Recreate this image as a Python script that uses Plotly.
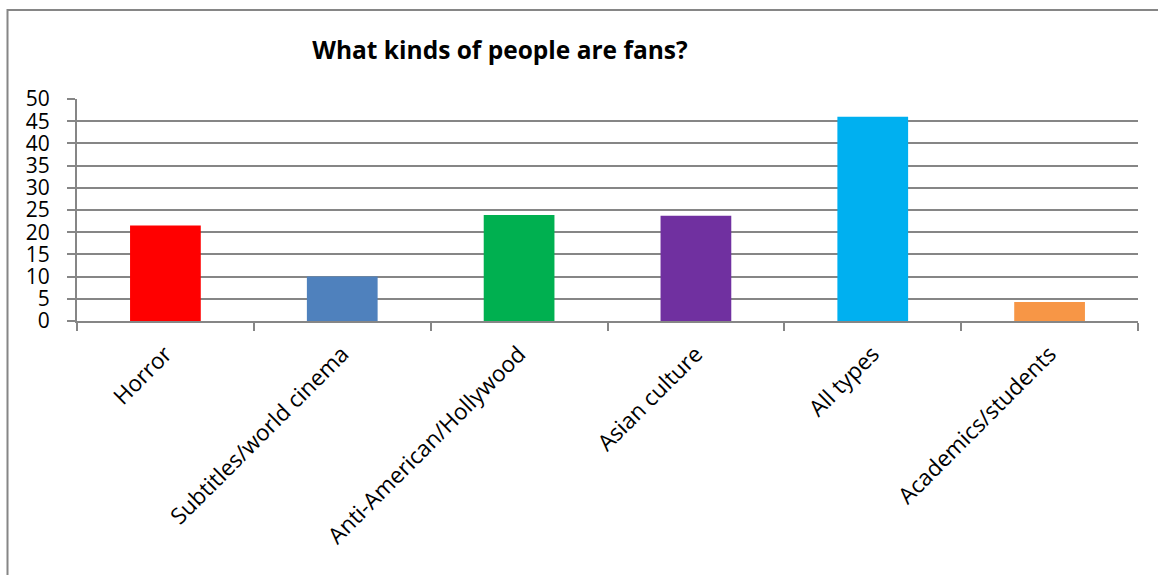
import plotly.graph_objects as go

categories = ["Horror", "Subtitles/world cinema", "Anti-American/Hollywood",
              "Asian culture", "All types", "Academics/students"]
values = [21.5, 10, 23.9, 23.7, 46, 4.3]
colors = ["#FF0000", "#4F81BD", "#00B050", "#7030A0", "#00B0F0", "#F79646"]
y_ticks = [0, 5, 10, 15, 20, 25, 30, 35, 40, 45, 50]

W, H = 1158, 575
L, R, T, B = 77, 20, 99, 254
pw, ph = W - L - R, H - T - B

def px_x(p):
    return (p - L) / pw

def px_y(p):
    return (H - B - p) / ph

fig = go.Figure()
fig.add_trace(go.Bar(
    x=categories, y=values,
    marker=dict(color=colors, line=dict(width=0)),
    width=0.4,
))

fig.update_layout(
    width=W, height=H,
    margin=dict(l=L, r=R, t=T, b=B, autoexpand=False),
    paper_bgcolor="white", plot_bgcolor="white",
    showlegend=False,
    font=dict(family="Open Sans, DejaVu Sans, sans-serif", color="black"),
    title=dict(
        text="<b>What kinds of people are fans?</b>",
        x=500 / W, xref="container", xanchor="center",
        y=1 - 50 / H, yref="container", yanchor="middle",
        font=dict(size=24.5, family="Open Sans, sans-serif", color="black"),
    ),
    xaxis=dict(
        type="category",
        automargin=False,
        tickangle=-45,
        tickson="boundaries",
        ticks="outside", ticklen=8, tickcolor="#868686", tickwidth=2,
        showline=True, linecolor="#868686", linewidth=2,
        showgrid=False,
        tickfont=dict(size=22.5, family="Open Sans, sans-serif", color="black"),
        ticklabelstandoff=9,
    ),
    yaxis=dict(
        range=[0, 50],
        automargin=False,
        tickvals=y_ticks,
        ticktext=[str(v) for v in y_ticks],
        ticks="outside", ticklen=8, tickcolor="#868686", tickwidth=2,
        showline=True, linecolor="#868686", linewidth=2,
        showgrid=True, gridcolor="#868686", gridwidth=2,
        zeroline=False,
        tickfont=dict(size=21, family="Open Sans, sans-serif", color="black"),
        ticklabelstandoff=13,
    ),
    shapes=[dict(
        type="rect", xref="paper", yref="paper",
        x0=px_x(7.5), x1=px_x(1170), y0=px_y(590), y1=px_y(10),
        line=dict(color="#868686", width=2), fillcolor="rgba(0,0,0,0)",
        layer="below",
    )],
)

fig.write_html(
    "out.html",
    config={"displayModeBar": False},
    post_script="document.body.style.margin='0px';document.body.style.overflow='hidden';",
)
